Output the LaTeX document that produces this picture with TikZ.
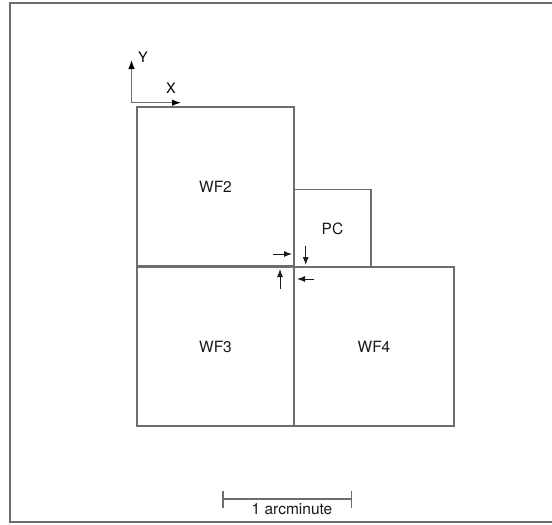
\documentclass[tikz,border=0pt]{standalone}
\usepackage{fontspec}
\setmainfont{TeX Gyre Heros}
\usetikzlibrary{arrows,arrows.meta}
\usepackage{xcolor}
\definecolor{mygray}{HTML}{6E6E6E}
\definecolor{myink}{HTML}{1A1A1A}

\tikzset{
  chip/.style={draw=mygray, line width=1.3pt, inner sep=0pt, font=\fontsize{15.5}{15.5}\selectfont, text=myink},
  offset/.style={-{Latex[length=8pt,width=6pt]}, line width=1pt, myink},
  axis/.style={-{Latex[length=9pt,width=6.5pt,black]}, mygray, line width=1.2pt},
}

\begin{document}
\begin{tikzpicture}[>=latex',x=1pt,y=-1pt]

      \useasboundingbox (0,0) rectangle (552,525);

      % frame
      \draw[mygray, line width=1.3pt] (553,3) -- (10,3) -- (10,522) -- (553,522);

      % axes
      \coordinate (o) at (131.5,102.7);
      \coordinate (ytip) at (131.5,60);
      \coordinate (xtip) at (181,102.7);
      \draw[axis] (o) -- (ytip);
      \draw[axis] (o) -- (xtip);
      \node[font=\fontsize{14.5}{14.5}\selectfont] (ylab) at (143,57) {Y};
      \node[font=\fontsize{14.5}{14.5}\selectfont] (xlab) at (171,88) {X};

      % chips
      \node[chip, minimum width=157pt, minimum height=159pt] (wf2) at (215.5,186.5) {WF2};
      \node[chip, minimum width=77pt, minimum height=78pt] (pc) at (332.5,228.5) {PC};
      \node[chip, minimum width=157pt, minimum height=159pt] (wf3) at (215.5,346.5) {WF3};
      \node[chip, minimum width=160pt, minimum height=159pt] (wf4) at (374,346.5) {WF4};

      % offsets
      \coordinate (a1) at (273,254);
      \coordinate (a1e) at (292,254);
      \coordinate (a2) at (305.7,246);
      \coordinate (a2e) at (305.7,265);
      \coordinate (a3) at (280,289);
      \coordinate (a3e) at (280,269);
      \coordinate (a4) at (314,279);
      \coordinate (a4e) at (297,279);
      \draw[offset] (a1) -- (a1e);
      \draw[offset] (a2) -- (a2e);
      \draw[offset] (a3) -- (a3e);
      \draw[offset] (a4) -- (a4e);

      % scale
      \coordinate (sl) at (223,499);
      \coordinate (sr) at (351.5,499);
      \draw[mygray, line width=1.2pt] (sl) -- (sr);
      \draw[mygray, line width=1.2pt] ([yshift=8.5pt]sl) -- ([yshift=-8.5pt]sl);
      \draw[mygray, line width=1.2pt] ([yshift=8.5pt]sr) -- ([yshift=-8.5pt]sr);
      \node[font=\fontsize{15.5}{15.5}\selectfont, text=myink] (scale) at (292,509) {1 arcminute};

\end{tikzpicture}
\end{document}
